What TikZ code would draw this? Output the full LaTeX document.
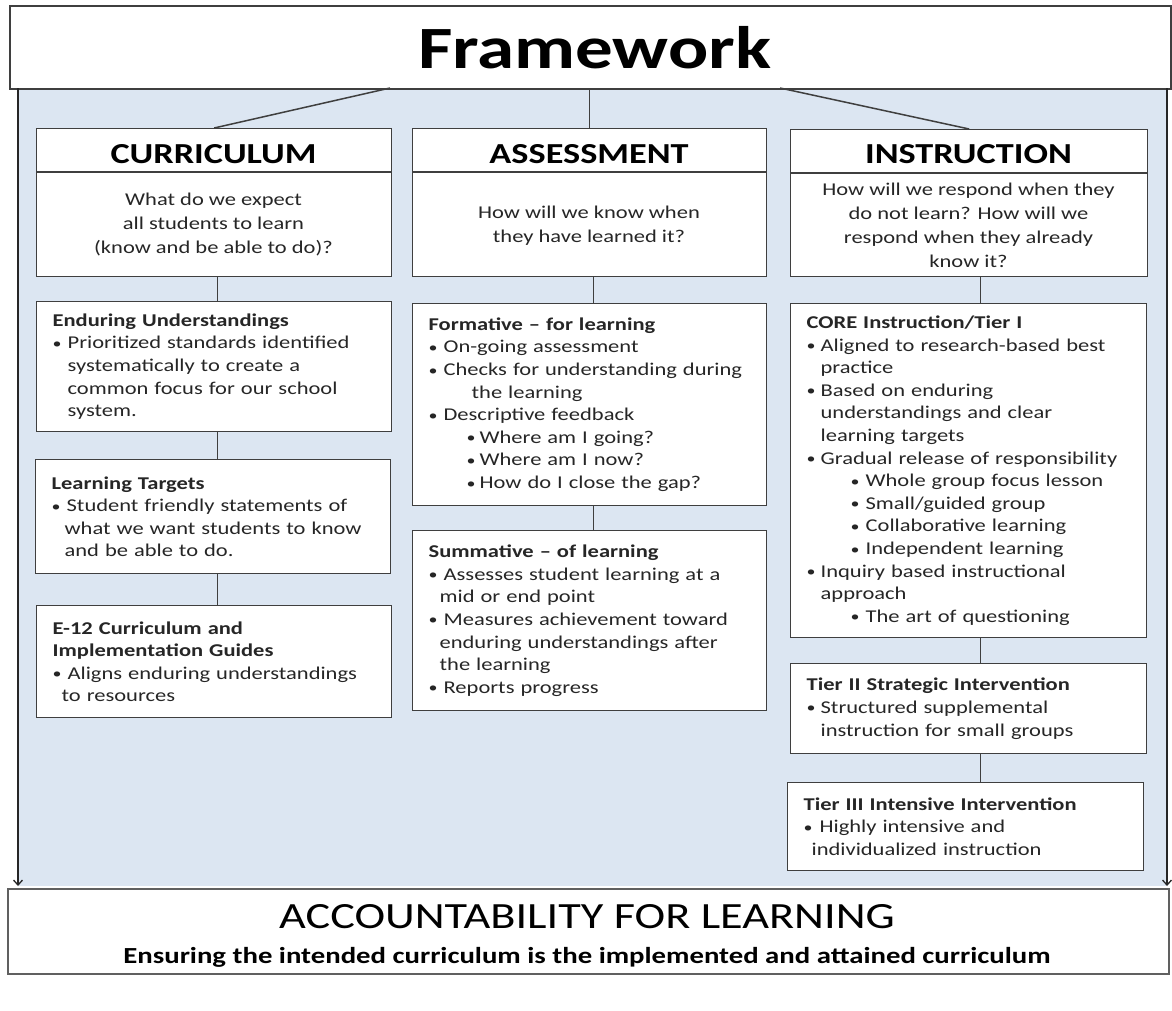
\documentclass[tikz,border=0pt]{standalone}
\usepackage{fontspec}
\setmainfont{Carlito}[FakeStretch=1.25]
\usetikzlibrary{arrows.meta}
\definecolor{bgblue}{HTML}{DCE6F2}
\definecolor{edgegray}{HTML}{3F3F3F}
\definecolor{bodytxt}{HTML}{262626}
\newcommand\bl[1][15pt]{\makebox[#1][l]{\raisebox{0.5pt}{\scalebox{0.8}{\textbullet}}}}
\newcommand\ind[1]{\hspace*{#1}}
\begin{document}
\begin{tikzpicture}[x=1pt,y=-1pt,
  box/.style={draw=edgegray, line width=1.3pt, fill=white, anchor=north west,
    inner xsep=16pt, inner ysep=0pt, align=left, text=bodytxt,
    font=\fontsize{18}{22.6}\selectfont},
  link/.style={draw=edgegray, line width=1.5pt},
  ttl/.style={font=\bfseries\fontsize{29}{34}\selectfont, text=black, anchor=base},
  qtxt/.style={font=\fontsize{18}{24}\selectfont, align=center, text=bodytxt},
  sidearrow/.style={draw=black!85, line width=1.3pt, shorten >=2pt,
    -{Straight Barb[length=5pt,width=9pt]}}
]
\useasboundingbox (0,0) rectangle (1172,1010);
\fill[white] (0,0) rectangle (1172,1010);
\fill[bgblue] (18,88) rectangle (1167,886);

% Framework header
\node[draw=edgegray, line width=2.2pt, fill=white, anchor=north west,
  minimum width=1161pt, minimum height=83pt, inner sep=0pt,
  font=\bfseries\fontsize{60}{66}\selectfont] (fw) at (9,5) {\hspace*{8pt}Framework};

% side arrows
\coordinate (la) at (18,88);
\coordinate (ra) at (1167,88);

% Accountability box
\node[draw=gray!75!black, line width=1.6pt, fill=white, anchor=north west,
  minimum width=1161pt, minimum height=85pt, inner sep=0pt] (acc) at (7,888) {};
\node[anchor=base, font=\fontsize{37}{40}\selectfont] (accT) at (587,928) {ACCOUNTABILITY FOR LEARNING};
\node[anchor=base, font=\bfseries\fontsize{23}{26}\selectfont] (accS) at (587,963) {Ensuring the intended curriculum is the implemented and attained curriculum};

\draw[sidearrow] (la) -- (la |- acc.north);
\draw[sidearrow] (ra) -- (ra |- acc.north);

% Top boxes
\node[box, minimum width=355pt, minimum height=148pt, text width=323pt] (cur) at (36,128) {};
\draw[edgegray, line width=1.3pt] (cur.west |- 0,172) -- (cur.east |- 0,172);
\node[ttl] (curT) at (213.5,163) {CURRICULUM};
\node[qtxt] (curQ) at (213.5,224) {What do we expect\\all students to learn\\(know and be able to do)?};

\node[box, minimum width=354pt, minimum height=148pt, text width=322pt] (ass) at (412,128) {};
\draw[edgegray, line width=1.3pt] (ass.west |- 0,172) -- (ass.east |- 0,172);
\node[ttl] (assT) at (589,163) {ASSESSMENT};
\node[qtxt] (assQ) at (589,226) {How will we know when\\they have learned it?};

\node[box, minimum width=357pt, minimum height=147pt, text width=325pt] (ins) at (790,129) {};
\draw[edgegray, line width=1.3pt] (ins.west |- 0,173) -- (ins.east |- 0,173);
\node[ttl] (insT) at (968.5,163) {INSTRUCTION};
\node[qtxt] (insQ) at (968.5,225) {How will we respond when they\\do not learn? How will we\\respond when they already\\know it?};

% framework connectors
\coordinate (f1) at (390,88);
\coordinate (f3) at (780,88);
\draw[link] (f1) -- (cur.north);
\draw[link] (fw.south -| ass.north) -- (ass.north);
\draw[link] (f3) -- (ins.north);

% Column 1
\node[box, minimum width=355pt, minimum height=130pt, text width=323pt] (eu) at (36,301) {%
{\bfseries Enduring Understandings}\\
\bl Prioritized standards identified\\
\ind{15pt}systematically to create a\\
\ind{15pt}common focus for our school\\
\ind{15pt}system.};
\node[box, minimum width=355pt, minimum height=114pt, text width=323pt] (lt) at (35,459) {%
{\bfseries Learning Targets}\\
\bl Student friendly statements of\\
\ind{13pt}what we want students to know\\
\ind{13pt}and be able to do.};
\node[box, minimum width=355pt, minimum height=112pt, text width=323pt] (e12) at (36,605) {%
{\bfseries E-12 Curriculum and}\\
{\bfseries Implementation Guides}\\
\bl Aligns enduring understandings\\
\ind{9pt}to resources};

\draw[link] ([xshift=3.5pt]cur.south) -- ([xshift=3.5pt]cur.south |- eu.north);
\draw[link] ([xshift=3.5pt]eu.south) -- ([xshift=3.5pt]eu.south |- lt.north);
\draw[link] ([xshift=4.5pt]lt.south) -- ([xshift=4.5pt]lt.south |- e12.north);

% Column 2
\node[box, minimum width=354pt, minimum height=202pt, text width=322pt] (form) at (412,303) {%
{\bfseries Formative -- for learning}\\
\bl On-going assessment\\
\bl Checks for understanding during\\
\ind{43pt}the learning\\
\bl Descriptive feedback\\
\ind{38pt}\bl[13pt]Where am I going?\\
\ind{38pt}\bl[13pt]Where am I now?\\
\ind{38pt}\bl[13pt]How do I close the gap?};
\node[box, minimum width=354pt, minimum height=180pt, text width=322pt] (summ) at (412,530) {%
{\bfseries Summative -- of learning}\\
\bl Assesses student learning at a\\
\ind{11pt}mid or end point\\
\bl Measures achievement toward\\
\ind{11pt}enduring understandings after\\
\ind{11pt}the learning\\
\bl Reports progress};

\draw[link] ([xshift=4pt]ass.south) -- ([xshift=4pt]ass.south |- form.north);
\draw[link] ([xshift=4pt]form.south) -- ([xshift=4pt]form.south |- summ.north);

% Column 3
\node[box, minimum width=356pt, minimum height=334pt, text width=324pt] (core) at (790,303) {%
{\bfseries CORE Instruction/Tier I}\\
\bl[14pt]Aligned to research-based best\\
\ind{14pt}practice\\
\bl[14pt]Based on enduring\\
\ind{14pt}understandings and clear\\
\ind{14pt}learning targets\\
\bl[14pt]Gradual release of responsibility\\
\ind{44pt}\bl Whole group focus lesson\\
\ind{44pt}\bl Small/guided group\\
\ind{44pt}\bl Collaborative learning\\
\ind{44pt}\bl Independent learning\\
\bl[14pt]Inquiry based instructional\\
\ind{14pt}approach\\
\ind{44pt}\bl The art of questioning};
\node[box, minimum width=356pt, minimum height=90pt, text width=324pt] (t2) at (790,663) {%
{\bfseries Tier II Strategic Intervention}\\
\bl[14pt]Structured supplemental\\
\ind{14pt}instruction for small groups};
\node[box, minimum width=356pt, minimum height=88pt, text width=324pt] (t3) at (787,782) {%
{\bfseries Tier III Intensive Intervention}\\
\bl[16pt]Highly intensive and\\
\ind{8pt}individualized instruction};

\draw[link] ([xshift=11.5pt]ins.south) -- ([xshift=11.5pt]ins.south |- core.north);
\draw[link] ([xshift=12pt]core.south) -- ([xshift=12pt]core.south |- t2.north);
\draw[link] ([xshift=12pt]t2.south) -- ([xshift=12pt]t2.south |- t3.north);
\end{tikzpicture}
\end{document}
